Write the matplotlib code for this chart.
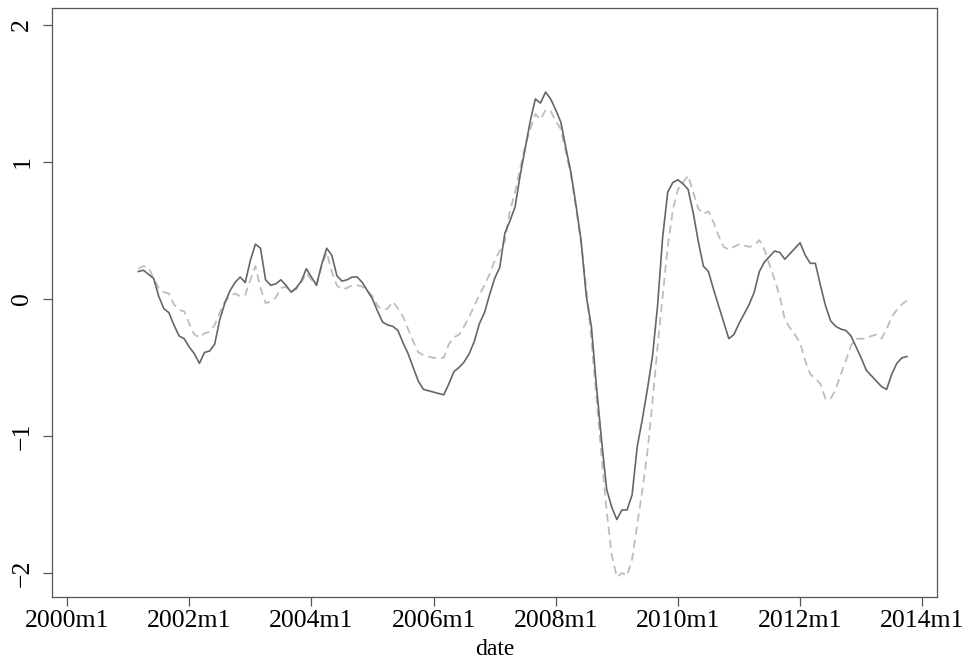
import matplotlib
matplotlib.use("Agg")
import matplotlib.pyplot as plt
import numpy as np

# months since 2000m1, series start at 2001m3
start_month = 14

solid = [0.20, 0.21, 0.18, 0.15, 0.02, -0.07, -0.10, -0.19, -0.27, -0.29,
         -0.35, -0.40, -0.47, -0.39, -0.38, -0.33, -0.15, -0.03, 0.06, 0.12,
         0.16, 0.12, 0.28, 0.40, 0.37, 0.14, 0.10, 0.11, 0.14, 0.10,
         0.05, 0.08, 0.13, 0.22, 0.16, 0.10, 0.25, 0.37, 0.32, 0.17,
         0.13, 0.14, 0.16, 0.16, 0.12, 0.06, 0.00, -0.09, -0.17, -0.19,
         -0.20, -0.23, -0.32, -0.40, -0.50, -0.60, -0.66, -0.67, -0.68, -0.69,
         -0.70, -0.62, -0.53, -0.50, -0.46, -0.40, -0.31, -0.18, -0.10, 0.03,
         0.15, 0.23, 0.48, 0.57, 0.67, 0.90, 1.10, 1.30, 1.46, 1.43,
         1.51, 1.46, 1.38, 1.29, 1.10, 0.92, 0.68, 0.42, 0.02, -0.20,
         -0.64, -1.03, -1.39, -1.52, -1.61, -1.54, -1.54, -1.43, -1.08, -0.88,
         -0.66, -0.42, -0.05, 0.45, 0.78, 0.85, 0.87, 0.84, 0.80, 0.63,
         0.42, 0.24, 0.20, 0.07, -0.05, -0.17, -0.29, -0.26, -0.18, -0.11,
         -0.04, 0.05, 0.20, 0.27, 0.31, 0.35, 0.34, 0.29, 0.33, 0.37,
         0.41, 0.32, 0.26, 0.26, 0.10, -0.05, -0.16, -0.20, -0.22, -0.23,
         -0.27, -0.35, -0.43, -0.52, -0.56, -0.60, -0.64, -0.66, -0.55, -0.47,
         -0.43, -0.42]

dashed = [0.22, 0.24, 0.23, 0.15, 0.08, 0.05, 0.04, -0.04, -0.08, -0.09,
          -0.18, -0.26, -0.28, -0.25, -0.24, -0.19, -0.10, -0.02, 0.02, 0.04,
          0.02, 0.03, 0.14, 0.24, 0.08, -0.03, -0.02, 0.01, 0.08, 0.09,
          0.05, 0.07, 0.12, 0.19, 0.14, 0.10, 0.24, 0.34, 0.20, 0.10,
          0.07, 0.08, 0.10, 0.10, 0.09, 0.06, 0.02, -0.05, -0.08, -0.07,
          -0.02, -0.07, -0.13, -0.22, -0.31, -0.39, -0.41, -0.42, -0.43, -0.43,
          -0.43, -0.33, -0.28, -0.26, -0.20, -0.13, -0.05, 0.03, 0.10, 0.18,
          0.28, 0.35, 0.42, 0.64, 0.78, 0.95, 1.12, 1.24, 1.35, 1.31,
          1.38, 1.37, 1.30, 1.24, 1.07, 0.90, 0.66, 0.40, 0.08, -0.30,
          -0.72, -1.15, -1.55, -1.87, -2.03, -2.00, -2.02, -1.90, -1.65, -1.40,
          -1.12, -0.75, -0.35, 0.02, 0.38, 0.65, 0.80, 0.85, 0.90, 0.78,
          0.66, 0.62, 0.64, 0.56, 0.46, 0.38, 0.36, 0.38, 0.40, 0.39,
          0.38, 0.39, 0.43, 0.36, 0.25, 0.14, 0.02, -0.15, -0.21, -0.26,
          -0.32, -0.45, -0.55, -0.58, -0.62, -0.73, -0.73, -0.66, -0.55, -0.45,
          -0.34, -0.29, -0.29, -0.29, -0.27, -0.26, -0.29, -0.22, -0.13, -0.08,
          -0.04, -0.01]

tick_months = [0, 24, 48, 72, 96, 120, 144, 168]
tick_labels = ["2000m1", "2002m1", "2004m1", "2006m1", "2008m1", "2010m1", "2012m1", "2014m1"]
y_ticks = [-2, -1, 0, 1, 2]

plt.rcParams["font.family"] = ["Liberation Serif", "DejaVu Serif"]

months = start_month + np.arange(len(solid))

fig = plt.figure(figsize=(9.64, 6.64), dpi=100)
ax = fig.add_axes([0.054, 0.101, 0.918, 0.887])

ax.plot(months, dashed, color="#bdbdbd", lw=1.3, linestyle=(0, (4.5, 2.8)))
ax.plot(months, solid, color="#666666", lw=1.2)

ax.set_xlim(-2.95, 170.9)
ax.set_ylim(-2.175, 2.124)

ax.set_xticks(tick_months)
ax.set_xticklabels(tick_labels)
ax.set_yticks(y_ticks)
ax.set_yticklabels([str(v).replace("-", "\u2212") for v in y_ticks], rotation=90, va="center")

for s in ax.spines.values():
    s.set_color("#555555")
    s.set_linewidth(0.9)
ax.tick_params(axis="both", length=6.5, width=0.9, color="#555555", labelsize=18.5)
ax.tick_params(axis="x", pad=3)
ax.tick_params(axis="y", pad=7)
ax.set_xlabel("date", fontsize=17, labelpad=5)

fig.savefig("out.png", dpi=100)
